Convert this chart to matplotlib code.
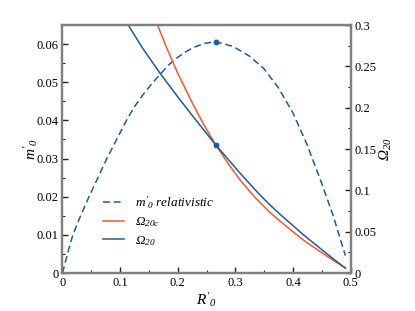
import numpy as np
import matplotlib
matplotlib.use('Agg')
import matplotlib.pyplot as plt
from matplotlib.ticker import MultipleLocator

plt.rcParams['font.family'] = ['Liberation Serif', 'DejaVu Serif']
# all math labels in the reference are italic, greek and digits too
plt.rcParams['mathtext.fontset'] = 'custom'
plt.rcParams['mathtext.rm'] = 'Liberation Serif:italic'
plt.rcParams['mathtext.it'] = 'Liberation Serif:italic'

## DATA
r_mass = [0, 0.010, 0.018, 0.030, 0.046, 0.060, 0.077, 0.094, 0.111, 0.125, 0.140,
          0.155, 0.169, 0.184, 0.198, 0.212, 0.227, 0.247, 0.266, 0.296, 0.325,
          0.350, 0.375, 0.400, 0.425, 0.450, 0.470, 0.491]
m_rel = [0, 0.0058, 0.010, 0.0145, 0.020, 0.0245, 0.030, 0.035, 0.040, 0.0436, 0.0468,
         0.0496, 0.0520, 0.0545, 0.0563, 0.0578, 0.0591, 0.0602, 0.0606, 0.0594, 0.0568,
         0.0535, 0.0485, 0.0420, 0.0335, 0.0235, 0.0150, 0.0046]

r_om = [0.114, 0.140, 0.169, 0.198, 0.227, 0.266, 0.308, 0.340, 0.360, 0.377,
        0.400, 0.417, 0.440, 0.465, 0.491]
om_20 = [0.300, 0.271, 0.242, 0.215, 0.189, 0.155, 0.121, 0.0965, 0.0825, 0.0715,
         0.0575, 0.047, 0.034, 0.020, 0.006]

r_omc = [0.165, 0.180, 0.200, 0.225, 0.245, 0.266, 0.290, 0.310, 0.335, 0.360,
         0.380, 0.400, 0.420, 0.445, 0.470, 0.491]
om_20c = [0.300, 0.2738, 0.2418, 0.2063, 0.1799, 0.155, 0.130, 0.111, 0.091, 0.0735,
          0.0615, 0.050, 0.039, 0.027, 0.0155, 0.006]

r_peak, m_peak = 0.266, 0.0606
r_cross, om_cross = 0.266, 0.155

blue = '#1b5c9e'
red = '#ff5528'
gray = '#808080'

fig = plt.figure(figsize=(4.15, 3.11), dpi=100)
ax = fig.add_axes([0.1506, 0.122, 0.694, 0.7976])
ax2 = ax.twinx()

l1, = ax.plot(r_mass, m_rel, color=blue, lw=1.1, dashes=(4.5, 2.5))
ax.plot([r_peak], [m_peak], 'o', color=blue, ms=3.2)
l2, = ax2.plot(r_omc, om_20c, color=red, lw=1.1)
l3, = ax2.plot(r_om, om_20, color=blue, lw=1.1)
ax2.plot([r_cross], [om_cross], 'o', color=blue, ms=3.2)

ax.set_xlim(0, 0.5)
ax.set_ylim(0, 0.065)
ax2.set_ylim(0, 0.3)

ax.xaxis.set_major_locator(MultipleLocator(0.1))
ax.xaxis.set_minor_locator(MultipleLocator(0.05))
ax.yaxis.set_major_locator(MultipleLocator(0.01))
ax.yaxis.set_minor_locator(MultipleLocator(0.005))
ax2.yaxis.set_major_locator(MultipleLocator(0.05))
ax2.yaxis.set_minor_locator(MultipleLocator(0.025))

fmt = lambda v, p: '0' if abs(v) < 1e-9 else ('%g' % round(v, 3))
ax.xaxis.set_major_formatter(plt.FuncFormatter(fmt))
ax.yaxis.set_major_formatter(plt.FuncFormatter(fmt))
ax2.yaxis.set_major_formatter(plt.FuncFormatter(fmt))

for a in (ax, ax2):
    for s in a.spines.values():
        s.set_color(gray)
        s.set_linewidth(1.6)
    a.tick_params(which='both', direction='in', labelsize=9, pad=3, color='#222222')
    a.tick_params(which='major', length=4, width=1)
    a.tick_params(which='minor', length=2.5, width=0.8)
ax.tick_params(axis='y', which='both', right=False)
ax.tick_params(axis='x', which='both', top=False)

ax.set_xlabel(r"$R'_0$", fontsize=11, labelpad=1)
ax.set_ylabel(r"$m'_0$", fontsize=11, labelpad=-3)
ax2.set_ylabel(r"$\Omega_{20}$", fontsize=11, labelpad=1)

ax.legend([l1, l2, l3],
          [r"$m'_0$ $\it{relativistic}$", r"$\Omega_{20c}$", r"$\Omega_{20}$"],
          loc='lower left', bbox_to_anchor=(0.1, 0.055), frameon=False,
          fontsize=9.5, handlelength=1.6, labelspacing=0.35, handletextpad=0.8)

fig.savefig('out.png', dpi=100)
